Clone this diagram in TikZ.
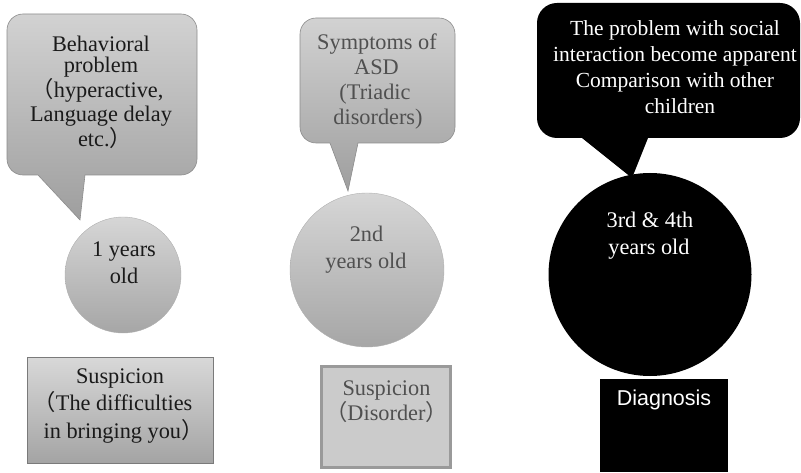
\documentclass[tikz,border=0pt]{standalone}
\usepackage{fontspec}
\setmainfont{Liberation Serif}
\newfontfamily\timesfam{Liberation Serif}
\newfontfamily\cjkparen{Noto Sans CJK JP}
\newfontfamily\arialfam{Liberation Sans}
\newcommand{\flp}{{\cjkparen （}}
\newcommand{\frp}{{\cjkparen ）}}
\definecolor{calA}{HTML}{D2D2D2}
\definecolor{calB}{HTML}{9E9E9E}
\definecolor{calEdge}{HTML}{8C8C8C}
\definecolor{cirA}{HTML}{D6D6D6}
\definecolor{cirB}{HTML}{A6A6A6}
\definecolor{boxA}{HTML}{D8D8D8}
\definecolor{boxB}{HTML}{A4A4A4}
\definecolor{boxEdge}{HTML}{7A7A7A}
\definecolor{flatFill}{HTML}{CBCBCB}
\definecolor{flatEdge}{HTML}{9A9A9A}
\definecolor{midText}{HTML}{505050}
\definecolor{darkText}{HTML}{1A1A1A}
\tikzset{
  ln/.style={anchor=base, inner sep=0pt, font=\timesfam\fontsize{22.3}{24}\selectfont},
  lnw/.style={anchor=base, inner sep=0pt, text=white, font=\timesfam\fontsize{21.5}{24}\selectfont},
  callout/.style={top color=calA, bottom color=calB, draw=calEdge, line width=0.6pt},
  graydisc/.style={circle, inner sep=0pt, top color=cirA, bottom color=cirB, draw=calEdge!70, line width=0.4pt},
}
\begin{document}
\begin{tikzpicture}[x=1pt,y=1pt]
\useasboundingbox (0,0) rectangle (801,472);
% ---------- left column ----------
\shade[callout] (23,458) -- (181,458) arc[start angle=90,end angle=0,radius=16pt]
  -- (197,313) arc[start angle=0,end angle=-90,radius=16pt]
  -- (85,297) -- (80,252) -- (38,297) -- (23,297)
  arc[start angle=270,end angle=180,radius=16pt]
  -- (7,442) arc[start angle=180,end angle=90,radius=16pt] -- cycle;
\node[ln, text=darkText] (t1a) at (101,420.3) {Behavioral};
\node[ln, text=darkText] (t1b) at (101,399) {problem};
\node[ln, text=darkText] (t1c) at (97.5,374) {\flp hyperactive,};
\node[ln, text=darkText] (t1d) at (101,350.3) {Language delay};
\node[ln, text=darkText] (t1e) at (105,325.3) {etc.\frp};
\node[graydisc, minimum size=116pt] (c1) at (123,197) {};
\node[ln, text=darkText] (c1a) at (124,215.3) {1 years};
\node[ln, text=darkText] (c1b) at (124,189) {old};
\node[rectangle, minimum width=186pt, minimum height=106pt, inner sep=0pt,
  top color=boxA, bottom color=boxB, draw=boxEdge, line width=0.6pt] (b1) at (120,62) {};
\node[ln, text=darkText] (b1a) at (120,89) {Suspicion};
\node[ln, text=darkText] (b1b) at (113,62) {\flp The difficulties};
\node[ln, text=darkText] (b1c) at (123.5,34) {in bringing you\frp};
% ---------- middle column ----------
\shade[callout] (316,454) -- (439,454) arc[start angle=90,end angle=0,radius=16pt]
  -- (455,345) arc[start angle=0,end angle=-90,radius=16pt]
  -- (358,329) -- (348,281) -- (330,329) -- (316,329)
  arc[start angle=270,end angle=180,radius=16pt]
  -- (300,438) arc[start angle=180,end angle=90,radius=16pt] -- cycle;
\node[ln, text=midText] (t2a) at (377,422) {Symptoms of};
\node[ln, text=midText] (t2b) at (376.5,397) {ASD};
\node[ln, text=midText] (t2c) at (375,372) {(Triadic};
\node[ln, text=midText] (t2d) at (378,347) {disorders)};
\node[graydisc, minimum size=154pt] (c2) at (367,202) {};
\node[ln, text=midText] (c2a) at (366.5,230.3) {2nd};
\node[ln, text=midText] (c2b) at (366,203.5) {years old};
\node[rectangle, minimum width=129pt, minimum height=101pt, inner sep=0pt,
  fill=flatFill, draw=flatEdge, line width=3pt] (b2) at (385.5,55.5) {};
\node[ln, text=midText] (b2a) at (386.5,77) {Suspicion};
\node[ln, text=midText] (b2b) at (386.5,52) {\flp Disorder\frp};
% ---------- right column ----------
\fill[black] (557,469) -- (780,469) arc[start angle=90,end angle=0,radius=20pt]
  -- (800,354) arc[start angle=0,end angle=-90,radius=20pt]
  -- (648,334) -- (632,294) -- (582,334) -- (557,334)
  arc[start angle=270,end angle=180,radius=20pt]
  -- (537,449) arc[start angle=180,end angle=90,radius=20pt] -- cycle;
\node[lnw] (t3a) at (675,436) {The problem with social};
\node[lnw] (t3b) at (675,410.3) {interaction become apparent};
\node[lnw] (t3c) at (675,384.7) {Comparison with other};
\node[lnw] (t3d) at (680,358.7) {children};
\node[circle, minimum size=203pt, inner sep=0pt, fill=black] (c3) at (650,197.5) {};
\node[ln, text=white] (c3a) at (650,244) {3rd \& 4th};
\node[ln, text=white] (c3b) at (649,217) {years old};
\node[rectangle, minimum width=128pt, minimum height=93pt, inner sep=0pt, fill=black] (b3) at (664,46.5) {};
\node[anchor=base, inner sep=0pt, text=white, font=\arialfam\fontsize{21.5}{24}\selectfont] (b3a) at (664,67) {Diagnosis};
\end{tikzpicture}
\end{document}
